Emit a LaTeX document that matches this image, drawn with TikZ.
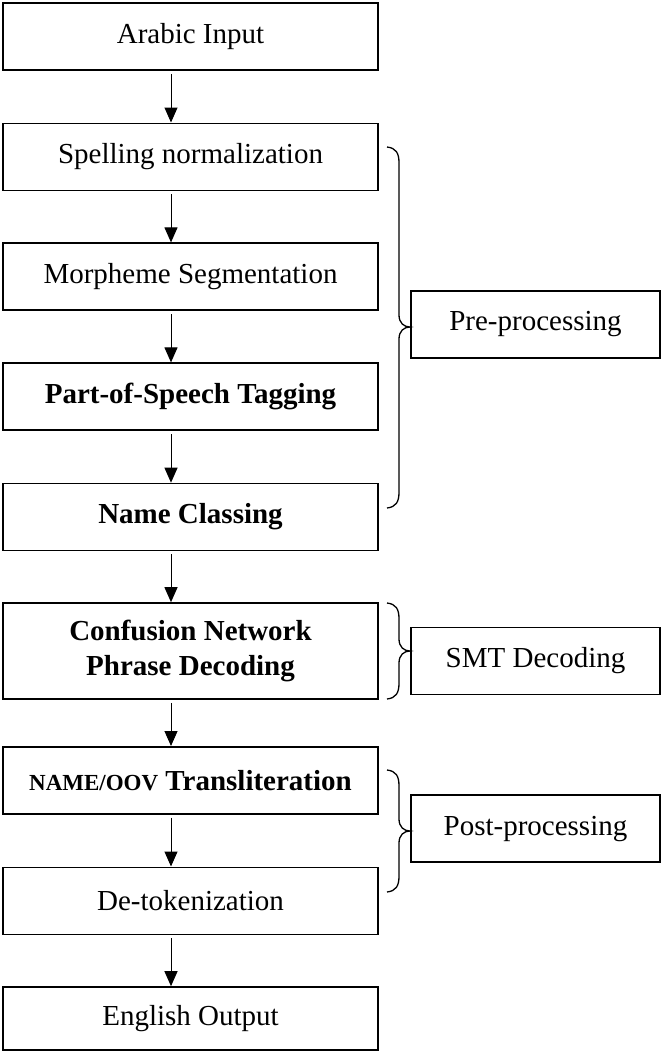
\documentclass[tikz,border=0pt]{standalone}
\usepackage{fontspec}
\setmainfont{Liberation Serif}
\usetikzlibrary{arrows.meta}
\newcommand\mybrace[3]{%
  \draw[bracestyle] (387,#1) .. controls (396,#1+1) and (399,#1+6) .. (399,#1+16)
    -- (399,#3-12) .. controls (399,#3-4) and (404,#3) .. (410,#3)
    .. controls (404,#3) and (399,#3+4) .. (399,#3+12)
    -- (399,#2-16) .. controls (399,#2-6) and (396,#2-1) .. (387,#2);}
\begin{document}
\begin{tikzpicture}[x=1pt,y=-1pt,
  box/.style={draw, line width=1.6pt, minimum width=375pt, minimum height=67pt,
    inner sep=0pt, align=center, font=\fontsize{29}{35}\selectfont},
  boldbox/.style={box, font=\fontsize{29}{35}\selectfont\bfseries},
  sidebox/.style={draw, line width=1.6pt, minimum width=249pt, minimum height=67pt,
    inner sep=0pt, align=center, font=\fontsize{29}{35}\selectfont},
  arr/.style={line width=1pt, -{Triangle[length=15pt,width=13pt]}, shorten <=3pt},
  bracestyle/.style={line width=1.3pt}]
\useasboundingbox (0,0) rectangle (662,1052);
\node[box] (a) at (190.5,36.5) {Arabic Input};
\node[box] (s) at (190.5,156.8) {Spelling normalization};
\node[box] (m) at (190.5,276.7) {Morpheme Segmentation};
\node[boldbox] (p) at (190.5,396.7) {Part-of-Speech Tagging};
\node[boldbox] (n) at (190.5,517) {Name Classing};
\node[boldbox, minimum height=96pt] (c) at (190.5,651) {Confusion Network\\Phrase Decoding};
\node[boldbox] (t) at (190.5,780.3) {{\fontsize{23}{26}\selectfont NAME/OOV} Transliteration};
\node[box] (d) at (190.5,900.8) {De-tokenization};
\node[box, minimum height=63pt] (e) at (190.5,1018.5) {English Output};
\node[sidebox] (pre) at (535.5,324.5) {Pre-processing};
\node[sidebox] (smt) at (535.5,661) {SMT Decoding};
\node[sidebox] (post) at (535.5,828.6) {Post-processing};
\coordinate (ax) at (171,0);
\draw[arr] (a.south -| ax) -- (s.north -| ax);
\draw[arr] (s.south -| ax) -- (m.north -| ax);
\draw[arr] (m.south -| ax) -- (p.north -| ax);
\draw[arr] (p.south -| ax) -- (n.north -| ax);
\draw[arr] (n.south -| ax) -- (c.north -| ax);
\draw[arr] (c.south -| ax) -- (t.north -| ax);
\draw[arr] (t.south -| ax) -- (d.north -| ax);
\draw[arr] (d.south -| ax) -- (e.north -| ax);
\mybrace{147}{508}{327}
\mybrace{603}{699}{651}
\mybrace{770}{892}{831}
\end{tikzpicture}
\end{document}
